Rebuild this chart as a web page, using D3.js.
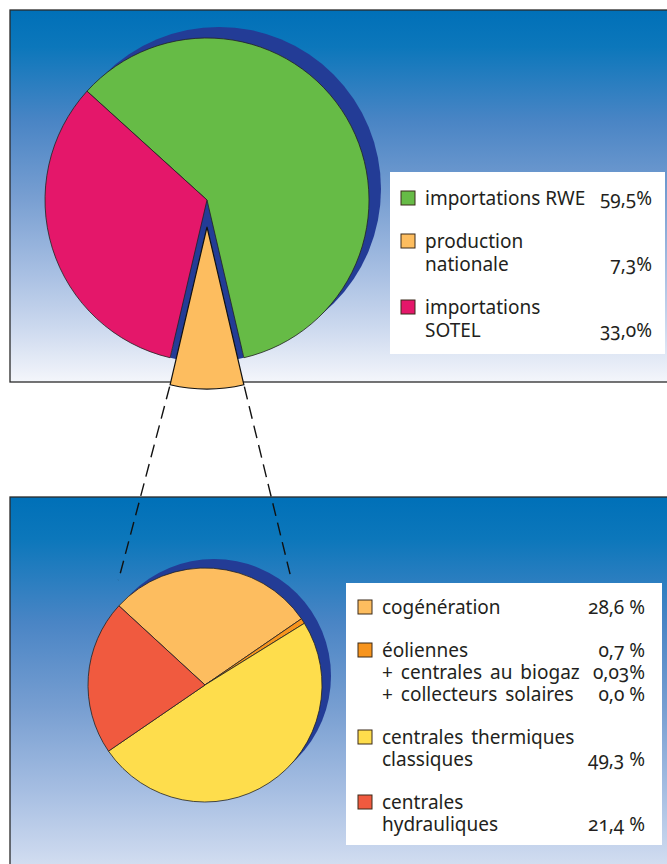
<!DOCTYPE html>
<html>
<head>
<meta charset="utf-8">
<script src="https://cdn.jsdelivr.net/npm/d3@7"></script>
<style>
html, body { margin: 0; padding: 0; background: #fff; }
svg { display: block; }
text { font-family: "Noto Sans", "Open Sans", sans-serif; font-size: 19px; fill: #231f20;
       font-variant-numeric: oldstyle-nums; font-feature-settings: "onum" 1; }
.sub text.label { word-spacing: 3px; }
</style>
</head>
<body>
<svg id="chart" width="667" height="864"></svg>
<script>
// ── données ────────────────────────────────────────
const topLines = [["importations RWE"], ["production", "nationale"], ["importations", "SOTEL"]];
const topValues = [59.5, 7.3, 33.0];
const topColors = ["#66bb46", "#fdbd5f", "#e4176a"];
const explodedIndex = 1; // production nationale

const subLines = [["cogénération"], ["éoliennes", "+ centrales au biogaz", "+ collecteurs solaires"],
                  ["centrales thermiques", "classiques"], ["centrales", "hydrauliques"]];
const subValues = [[28.6], [0.7, 0.03, 0.0], [49.3], [21.4]];
const subColors = ["#fdbd5f", "#f7941d", "#fedd4c", "#f05a3f"];

const shadowColor = "#233c96";

// ── helpers ────────────────────────────────────────
const svg = d3.select("#chart");
const defs = svg.append("defs");

const grad = defs.append("linearGradient")
    .attr("id", "bg").attr("x1", 0).attr("y1", 0).attr("x2", 0).attr("y2", 1);
[[0, "#0070b8"], [0.1, "#0c77bb"], [0.3, "#4a85c5"], [0.5, "#779ed1"],
 [0.7, "#a6bee2"], [0.85, "#cbd8ee"], [1, "#f4f6fb"]]
    .forEach(s => grad.append("stop").attr("offset", s[0]).attr("stop-color", s[1]));

function pct(v, space) {
    const two = Math.abs(v * 10 - Math.round(v * 10)) > 1e-9;
    const s = d3.format(two ? ".2f" : ".1f")(v).replace(".", ",");
    return s + (two || !space ? "%" : " %");
}

function panel(y, h) {
    svg.append("rect")
        .attr("x", 10).attr("y", y).attr("width", 700).attr("height", h)
        .attr("fill", "url(#bg)")
        .attr("stroke", "#2a2a2a").attr("stroke-width", 1.3);
}

function legend(box, rows, colors, opts) {
    const lg = svg.append("g").attr("class", opts.cls);
    lg.append("rect")
        .attr("x", box.x).attr("y", box.y).attr("width", box.w).attr("height", box.h)
        .attr("fill", "#fff");
    let base = opts.firstBase;
    rows.forEach((r, i) => {
        const g = lg.append("g");
        g.append("rect")
            .attr("x", opts.swX).attr("y", base - 14).attr("width", 14).attr("height", 14)
            .attr("fill", colors[i]).attr("stroke", "#3a2a1a").attr("stroke-width", 1);
        r.lines.forEach((t, j) => {
            g.append("text").attr("class", "label")
                .attr("x", opts.textX).attr("y", base + j * opts.lh).text(t);
        });
        // valeurs : une par ligne si plusieurs, sinon sur la dernière ligne
        r.vals.forEach((v, k) => {
            const j = r.vals.length > 1 ? k : r.lines.length - 1;
            g.append("text").attr("class", "value")
                .attr("x", opts.valX).attr("y", base + j * opts.lh)
                .attr("text-anchor", "end")
                .text(pct(v, opts.space));
        });
        base += (r.lines.length - 1) * opts.lh + opts.gap;
    });
}

// ── panneaux ───────────────────────────────────────
panel(10, 372);
panel(497, 420);

// ── camembert principal ────────────────────────────
const c1 = { x: 207, y: 200, r: 162 };
const total1 = d3.sum(topValues);
const beforeMid = d3.sum(topValues.slice(0, explodedIndex)) + topValues[explodedIndex] / 2;
const a0 = Math.PI - 2 * Math.PI * beforeMid / total1;

const pie1 = d3.pie().sort(null).value(d => d)
    .startAngle(a0).endAngle(a0 + 2 * Math.PI);
const arcs1 = pie1(topValues);
const arc1 = d3.arc().innerRadius(0).outerRadius(c1.r);

const gTop = svg.append("g").attr("transform", `translate(${c1.x},${c1.y})`);

// ombre
gTop.append("circle").attr("cx", 12).attr("cy", -11).attr("r", c1.r).attr("fill", shadowColor);
// trou laissé par la part détachée
gTop.append("path").attr("d", arc1(arcs1[explodedIndex])).attr("fill", shadowColor);

gTop.selectAll("path.slice")
    .data(arcs1.filter((d, i) => i !== explodedIndex))
    .join("path")
    .attr("class", "slice")
    .attr("d", arc1)
    .attr("fill", d => topColors[d.index])
    .attr("stroke", "#222").attr("stroke-width", 0.8);

const ex = arcs1[explodedIndex];
const exMid = (ex.startAngle + ex.endAngle) / 2;
const exOff = 27;
const exDx = Math.sin(exMid) * exOff, exDy = -Math.cos(exMid) * exOff;

// ── camembert détaillé ─────────────────────────────
const c2 = { x: 205, y: 685, r: 117 };
const start2 = -47.4 * Math.PI / 180;
const pie2 = d3.pie().sort(null).value(d => d3.sum(d))
    .startAngle(start2).endAngle(start2 + 2 * Math.PI);
const arcs2 = pie2(subValues);
const arc2 = d3.arc().innerRadius(0).outerRadius(c2.r);

// lignes pointillées de liaison
const linkR = 136, linkA = 39.5 * Math.PI / 180;
[ex.endAngle, ex.startAngle].forEach((a, i) => {
    const sx = c1.x + exDx + Math.sin(a) * (c1.r + 2);
    const sy = c1.y + exDy - Math.cos(a) * (c1.r + 2);
    const b = i === 0 ? -linkA : linkA;
    svg.append("line")
        .attr("x1", sx).attr("y1", sy)
        .attr("x2", c2.x + Math.sin(b) * linkR).attr("y2", c2.y - Math.cos(b) * linkR)
        .attr("stroke", "#111").attr("stroke-width", 1.4)
        .attr("stroke-dasharray", "13,7");
});

// part détachée
gTop.append("path")
    .attr("d", arc1(ex))
    .attr("transform", `translate(${exDx},${exDy})`)
    .attr("fill", topColors[explodedIndex])
    .attr("stroke", "#111").attr("stroke-width", 1.2);

const gSub = svg.append("g").attr("transform", `translate(${c2.x},${c2.y})`);
gSub.append("circle").attr("cx", 9).attr("cy", -9).attr("r", c2.r).attr("fill", shadowColor);
gSub.selectAll("path")
    .data(arcs2)
    .join("path")
    .attr("d", arc2)
    .attr("fill", d => subColors[d.index])
    .attr("stroke", "#222").attr("stroke-width", 0.8);

// ── légendes ───────────────────────────────────────
legend({ x: 390, y: 172, w: 275, h: 182 },
    topLines.map((l, i) => ({ lines: l, vals: [topValues[i]] })),
    topColors,
    { cls: "main", swX: 401, textX: 425, valX: 652, firstBase: 205, lh: 23, gap: 43, space: false });

legend({ x: 346, y: 583, w: 316, h: 262 },
    subLines.map((l, i) => ({ lines: l, vals: subValues[i] })),
    subColors,
    { cls: "sub", swX: 358, textX: 382, valX: 645, firstBase: 614, lh: 22, gap: 43, space: true });
</script>
</body>
</html>
